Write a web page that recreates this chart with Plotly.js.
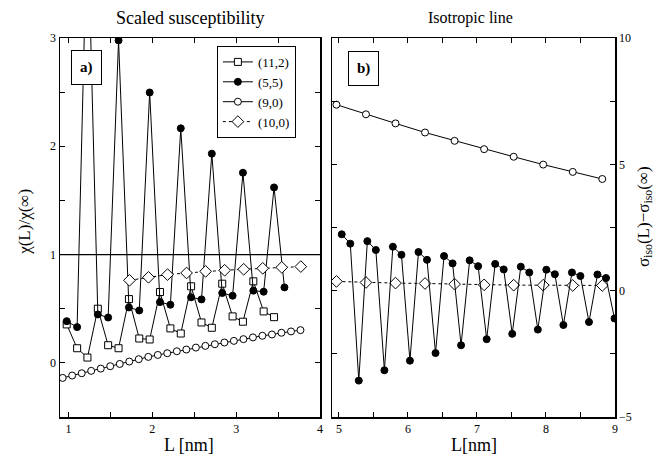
<!DOCTYPE html>
<html>
<head>
<meta charset="utf-8">
<script src="https://cdn.plot.ly/plotly-3.0.1.min.js"></script>
<style>html,body{margin:0;padding:0;background:#fff;}#chart{width:665px;height:455px;}</style>
</head>
<body>
<div id="chart"></div>
<script>
// ---- Left panel: scaled susceptibility ----
const seriesNames = ["(11,2)", "(5,5)", "(9,0)", "(10,0)"];

const L112 = [0.980, 1.104, 1.227, 1.351, 1.474, 1.598, 1.722, 1.845, 1.969, 2.092, 2.216,
              2.340, 2.463, 2.587, 2.710, 2.834, 2.958, 3.081, 3.205, 3.328, 3.452];
const chi112 = [0.355, 0.135, 0.049, 0.500, 0.163, 0.135, 0.589, 0.225, 0.216, 0.654, 0.318,
                0.271, 0.707, 0.373, 0.324, 0.731, 0.429, 0.380, 0.753, 0.475, 0.422];

const L55 = [0.980, 1.104, 1.227, 1.351, 1.474, 1.598, 1.722, 1.845, 1.969, 2.092, 2.216,
             2.340, 2.463, 2.587, 2.710, 2.834, 2.958, 3.081, 3.205, 3.328, 3.452, 3.576];
const chi55 = [0.385, 0.330, 4.20, 0.447, 0.419, 2.978, 0.512, 0.484, 2.497, 0.561, 0.537,
               2.166, 0.605, 0.586, 1.932, 0.645, 0.620, 1.756, 0.667, 0.657, 1.620, 0.697];

const L90 = [0.932, 1.045, 1.159, 1.272, 1.386, 1.499, 1.612, 1.726, 1.839, 1.953, 2.066, 2.179, 2.293,
             2.406, 2.520, 2.633, 2.746, 2.860, 2.973, 3.087, 3.200, 3.313, 3.427, 3.540, 3.654, 3.767];
const chi90 = [-0.139, -0.117, -0.096, -0.074, -0.053, -0.031, -0.010, 0.012, 0.034, 0.055, 0.073, 0.089, 0.107,
               0.123, 0.141, 0.157, 0.172, 0.188, 0.203, 0.219, 0.235, 0.250, 0.262, 0.278, 0.290, 0.302];

const L100 = [1.728, 1.955, 2.182, 2.409, 2.636, 2.863, 3.090, 3.317, 3.544, 3.771];
const chi100 = [0.762, 0.790, 0.815, 0.830, 0.845, 0.855, 0.864, 0.873, 0.882, 0.889];

// ---- Right panel: isotropic line ----
const R90 = [4.964, 5.392, 5.820, 6.248, 6.676, 7.104, 7.532, 7.960, 8.388, 8.816];
const sig90 = [7.36, 6.98, 6.62, 6.26, 5.93, 5.60, 5.30, 4.99, 4.70, 4.42];
const sig100 = [0.365, 0.325, 0.300, 0.285, 0.258, 0.230, 0.218, 0.218, 0.206, 0.206];

const R55 = [5.041, 5.165, 5.288, 5.412, 5.535, 5.659, 5.782, 5.906, 6.029, 6.153, 6.276,
             6.400, 6.523, 6.647, 6.770, 6.894, 7.017, 7.141, 7.264, 7.388, 7.511, 7.635,
             7.758, 7.882, 8.005, 8.129, 8.252, 8.376, 8.499, 8.623, 8.746, 8.870, 8.993];
const sig55 = [2.23, 1.86, -3.56, 1.96, 1.61, -3.15, 1.74, 1.42, -2.77, 1.53, 1.22,
               -2.47, 1.37, 1.08, -2.16, 1.20, 0.97, -1.92, 1.06, 0.84, -1.71, 0.95,
               0.72, -1.54, 0.83, 0.65, -1.36, 0.72, 0.58, -1.24, 0.64, 0.50, -1.10];

// ---- ticks ----
const xTick1 = [1, 2, 3, 4];
const xMinor1 = [1.5, 2.5, 3.5];
const yTick1 = [0, 1, 2, 3];
const yMinor1 = [-0.5, 0.5, 1.5, 2.5];
const xTick2 = [5, 6, 7, 8, 9];
const xMinor2 = [5.5, 6.5, 7.5, 8.5];
const yTick2 = [-5, 0, 5, 10];
const yText2 = ["\u22125", "0", "5", "10"];
const yMinor2 = [-2.5, 2.5, 7.5];

const FONT = "Liberation Serif, Times New Roman, serif";
const openM = (sym, size) => ({symbol: sym, size: size, color: "#ffffff", line: {color: "#000", width: 1}});
const fillM = (size) => ({symbol: "circle", size: size, color: "#000", line: {color: "#000", width: 1}});
const solid = {color: "#000", width: 1};
const dotted = {color: "#000", width: 1, dash: "dot"};

const traces = [
  {x: L112, y: chi112, name: seriesNames[0], mode: "lines+markers", line: solid, marker: openM("square", 7), xaxis: "x", yaxis: "y"},
  {x: L55, y: chi55, name: seriesNames[1], mode: "lines+markers", line: solid, marker: fillM(7), xaxis: "x", yaxis: "y"},
  {x: L90, y: chi90, name: seriesNames[2], mode: "lines+markers", line: solid, marker: openM("circle", 7), xaxis: "x", yaxis: "y"},
  {x: L100, y: chi100, name: seriesNames[3], mode: "lines+markers", line: dotted, marker: openM("diamond", 9), xaxis: "x", yaxis: "y"},
  {x: R90, y: sig90, name: seriesNames[2], mode: "lines+markers", line: solid, marker: openM("circle", 7), xaxis: "x2", yaxis: "y2", showlegend: false},
  {x: R90, y: sig100, name: seriesNames[3], mode: "lines+markers", line: dotted, marker: openM("diamond", 9), xaxis: "x2", yaxis: "y2", showlegend: false},
  {x: R55, y: sig55, name: seriesNames[1], mode: "lines+markers", line: solid, marker: fillM(7), xaxis: "x2", yaxis: "y2", showlegend: false}
];

function axis(extra, minorVals) {
  return Object.assign({
    showline: true, linecolor: "#000", linewidth: 1.5, mirror: "ticks",
    ticks: "inside", ticklen: 5, tickwidth: 1, tickcolor: "#000",
    showgrid: false, zeroline: false, tickmode: "array",
    tickfont: {family: FONT, size: 12, color: "#000"},
    minor: {tickmode: "array", tickvals: minorVals, ticks: "inside", ticklen: 5, tickwidth: 1, tickcolor: "#000", showgrid: false}
  }, extra);
}

const layout = {
  width: 665, height: 455,
  margin: {l: 60, r: 50, t: 38, b: 38},
  paper_bgcolor: "#fff", plot_bgcolor: "#fff",
  font: {family: FONT, color: "#000"},
  showlegend: true,
  legend: {
    x: 0.425, xanchor: "right", y: 0.979, yanchor: "top",
    bgcolor: "#fff", bordercolor: "#000", borderwidth: 1,
    font: {family: FONT, size: 13, color: "#000"},
    itemwidth: 30, tracegroupgap: 0
  },
  xaxis: axis({domain: [0, 0.4685], range: [0.9, 4], tickvals: xTick1, anchor: "y"}, xMinor1),
  yaxis: axis({domain: [0, 1], range: [-0.5, 3], tickvals: yTick1, anchor: "x"}, yMinor1),
  xaxis2: axis({domain: [0.4901, 1], range: [4.9, 9], tickvals: xTick2, anchor: "y2"}, xMinor2),
  yaxis2: axis({domain: [0, 1], range: [-5, 10], tickvals: yTick2, ticktext: yText2, anchor: "x2", side: "right"}, yMinor2),
  shapes: [
    {type: "line", xref: "x", yref: "y", x0: 0.9, x1: 4, y0: 1, y1: 1, line: {color: "#000", width: 1.2}}
  ],
  annotations: [
    {text: "Scaled susceptibility", xref: "paper", yref: "paper", x: 0.234, y: 1.0528, xanchor: "center", yanchor: "middle", showarrow: false, font: {family: FONT, size: 18}},
    {text: "Isotropic line", xref: "paper", yref: "paper", x: 0.739, y: 1.0528, xanchor: "center", yanchor: "middle", showarrow: false, font: {family: FONT, size: 16}},
    {text: "L [nm]", xref: "paper", yref: "paper", x: 0.232, y: -0.074, xanchor: "center", yanchor: "middle", showarrow: false, font: {family: FONT, size: 18}},
    {text: "L[nm]", xref: "paper", yref: "paper", x: 0.746, y: -0.074, xanchor: "center", yanchor: "middle", showarrow: false, font: {family: FONT, size: 18}},
    {text: "\u03c7(L)/\u03c7(\u221e)", xref: "paper", yref: "paper", x: -0.063, y: 0.515, xanchor: "center", yanchor: "middle", textangle: -90, showarrow: false, font: {family: FONT, size: 17}},
    {text: "\u03c3<sub>iso</sub>(L)\u2212\u03c3<sub>iso</sub>(\u221e)", xref: "paper", yref: "paper", x: 1.054, y: 0.53, xanchor: "center", yanchor: "middle", textangle: -90, showarrow: false, font: {family: FONT, size: 17}},
    {text: "<b>a)</b>", xref: "paper", yref: "paper", x: 0.0477, y: 0.922, xanchor: "center", yanchor: "middle", showarrow: false, font: {family: FONT, size: 15}, bordercolor: "#000", borderwidth: 1, borderpad: 8, bgcolor: "#fff"},
    {text: "<b>b)</b>", xref: "paper", yref: "paper", x: 0.5468, y: 0.9195, xanchor: "center", yanchor: "middle", showarrow: false, font: {family: FONT, size: 15}, bordercolor: "#000", borderwidth: 1, borderpad: 8, bgcolor: "#fff"}
  ]
};

Plotly.newPlot("chart", traces, layout, {displayModeBar: false, staticPlot: true});
</script>
</body>
</html>
